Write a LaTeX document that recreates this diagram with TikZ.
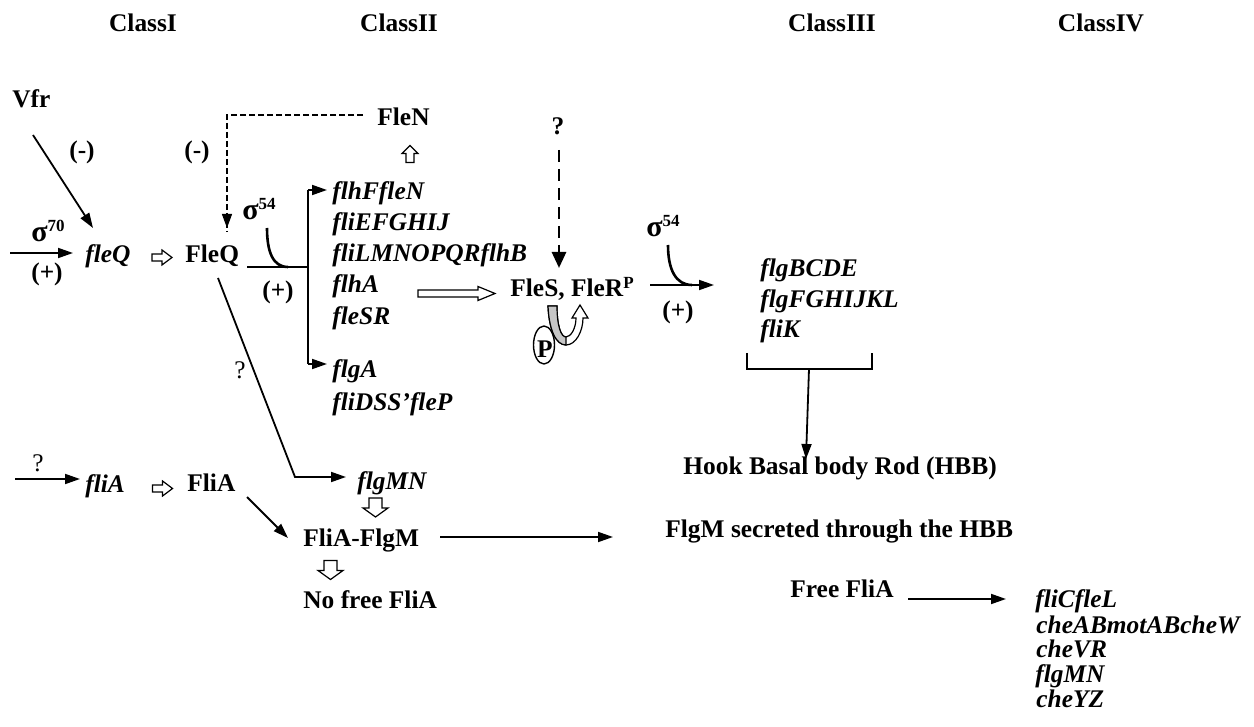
\documentclass[tikz,border=0pt]{standalone}
\usepackage{fontspec}
\setmainfont{Liberation Serif}
\usetikzlibrary{arrows.meta,shapes.geometric}
\newcommand{\mysup}[2]{\raisebox{#1}{\fontsize{8.5}{8.5}\selectfont #2}}
\newcommand{\mysig}{{\fontsize{15}{15}\selectfont σ}}
\tikzset{
  lbl/.style={font=\fontsize{12.7}{15}\selectfont\bfseries, inner sep=0pt, anchor=base west},
  gene/.style={font=\fontsize{12.7}{15}\selectfont\bfseries\itshape, inner sep=0pt, anchor=base west},
  sgn/.style={font=\fontsize{12.7}{15}\selectfont\bfseries, inner sep=0pt},
  qm/.style={font=\fontsize{12.7}{15}\selectfont, inner sep=0pt},
  arr/.style={line width=0.9pt, -{Triangle[length=7.5pt,width=5pt]}},
  ln/.style={line width=0.9pt},
  thindash/.style={line width=0.6pt, dash pattern=on 3pt off 1.5pt},
  thickdash/.style={line width=1.4pt, dash pattern=on 6pt off 3.5pt, -{Triangle[length=8pt,width=7pt]}},
  hol/.style={draw, line width=0.6pt, fill=white},
  sigcurve/.style={line width=1.3pt},
  hright/.pic={\path[hol] (-10,-3.5)--(0,-3.5)--(0,-7.5)--(10,0)--(0,7.5)--(0,3.5)--(-10,3.5)--cycle;},
  hdown/.pic={\path[hol] (-6.5,-9.5)--(6.5,-9.5)--(6.5,0.5)--(12.5,0.5)--(0,9.5)--(-12.5,0.5)--(-6.5,0.5)--cycle;},
  hup/.pic={\path[hol] (0,-8.5)--(8,-0.5)--(4,-0.5)--(4,8.5)--(-4,8.5)--(-4,-0.5)--(-8,-0.5)--cycle;},
}
\begin{document}
\begin{tikzpicture}[x=0.5pt,y=-0.5pt]
\useasboundingbox[fill=white] (0,0) rectangle (1254,727);
% headers
\node[lbl,anchor=base] (c1) at (143,32) {ClassI};
\node[lbl,anchor=base] (c2) at (399,32) {ClassII};
\node[lbl,anchor=base] (c3) at (832,32) {ClassIII};
\node[lbl,anchor=base] (c4) at (1101,32) {ClassIV};
% class I
\node[lbl] (vfr) at (12,108) {Vfr};
\node[sgn] (m1) at (82,152) {(-)};
\node[sgn] (m2) at (197,152) {(-)};
\node[lbl] (s70) at (31,242) {\mysig\mysup{5pt}{70}};
\node[sgn] (p1) at (47,274) {(+)};
\node[gene] (fleQ) at (85,263) {fleQ};
\node[lbl] (FleQ) at (185,263) {FleQ};
\node[lbl] (s54a) at (242,220) {\mysig\mysup{5pt}{54}};
\node[sgn] (p2) at (278,292) {(+)};
% class II genes
\node[gene] (g1) at (332,200) {flhFfleN};
\node[gene] (g2) at (332,231) {fliEFGHIJ};
\node[gene] (g3) at (332,262) {fliLMNOPQRflhB};
\node[gene] (g4) at (332,293) {flhA};
\node[gene] (g5) at (332,325) {fleSR};
\node[gene] (g6) at (332,378) {flgA};
\node[gene] (g7) at (332,410) {fliDSS’fleP};
\node[lbl] (FleN) at (377,126) {FleN};
\node[lbl,anchor=center] (q1) at (558,126) {?};
\node[lbl] (FleS) at (510,297) {FleS, FleR\mysup{4pt}{P}};
\node[lbl] (s54b) at (646,237) {\mysig\mysup{5pt}{54}};
\node[sgn] (p3) at (678,312) {(+)};
% class III
\node[gene] (h1) at (760,277) {flgBCDE};
\node[gene] (h2) at (760,308) {flgFGHIJKL};
\node[gene] (h3) at (760,338) {fliK};
\node[lbl] (HBB) at (683,474) {Hook Basal body Rod (HBB)};
% lower part
\node[qm] (q2) at (240,370) {?};
\node[qm] (q3) at (38,463) {?};
\node[gene] (fliA) at (85,492) {fliA};
\node[lbl] (FliA) at (187,491) {FliA};
\node[gene] (flgMN) at (357,489) {flgMN};
\node[lbl] (FliAFlgM) at (303,546) {FliA-FlgM};
\node[lbl] (NoFree) at (303,608) {No free FliA};
\node[lbl] (Sec) at (665,537) {FlgM secreted through the HBB};
\node[lbl] (Free) at (790,597) {Free FliA};
% class IV
\node[gene] (k1) at (1035,607) {fliCfleL};
\node[gene] (k2) at (1036,633) {cheABmotABcheW};
\node[gene] (k3) at (1036,657) {cheVR};
\node[gene] (k4) at (1035,682) {flgMN};
\node[gene] (k5) at (1036,707) {cheYZ};

% coordinates of connector ends
\coordinate (vfrA) at (33,135); \coordinate (vfrB) at (93,228);
\coordinate (s70A) at (10,253); \coordinate (s70B) at (73,253);
\coordinate (fnA) at (363,115); \coordinate (fnC) at (227,115); \coordinate (fnB) at (227,228);
\coordinate (fqA) at (247,267); \coordinate (fqB) at (308,267);
\coordinate (brT) at (308,190); \coordinate (brB) at (308,364);
\coordinate (brTt) at (327,190); \coordinate (brBt) at (327,364);
\coordinate (sgA) at (267,228); \coordinate (sgB) at (288,267);
\coordinate (qdA) at (559,150); \coordinate (qdB) at (559,268);
\coordinate (rA) at (650,285); \coordinate (rB) at (714,285);
\coordinate (sgC) at (668,245); \coordinate (sgD) at (692,285);
\coordinate (bk1) at (747,353); \coordinate (bk2) at (747,369);
\coordinate (bk3) at (872,369); \coordinate (bk4) at (872,353);
\coordinate (bkM) at (809,369); \coordinate (hbbT) at (806,459);
\coordinate (dqA) at (218,278); \coordinate (dqC) at (295,477); \coordinate (dqB) at (346,477);
\coordinate (faA) at (15,479); \coordinate (faB) at (80,479);
\coordinate (ffA) at (247,497); \coordinate (ffB) at (288,538);
\coordinate (fmA) at (440,537); \coordinate (fmB) at (613,537);
\coordinate (frA) at (908,599); \coordinate (frB) at (1006,599);

% class I connectors
\draw[arr] (vfrA) -- (vfrB);
\draw[arr] (s70A) -- (s70B);
\pic at (162,257.5) {hright};
\draw[thindash] (fnA) -- (fnC) -- ([yshift=-2pt]fnB);
\draw[line width=0.6pt,-{Triangle[length=7pt,width=5pt]}] ([yshift=3pt]fnB) -- (fnB);
\draw[ln] (fqA) -- (fqB);
\draw[sigcurve] (sgA) .. controls (267,252) and (273,267) .. (sgB);
\draw[ln] (brT) -- (brB);
\draw[arr] (brT) -- (brTt);
\draw[arr] (brB) -- (brBt);
\pic at (410,154) {hup};
% big hollow arrow
\path[hol] (418,290)--(478,290)--(478,286.5)--(495,293.5)--(478,300.5)--(478,297)--(418,297)--cycle;
% dashed ? arrow
\draw[thickdash] (qdA) -- (qdB);
% phosphorylation loop
\node[draw, ellipse, line width=0.7pt, inner sep=0pt, minimum width=10.5pt, minimum height=19pt] (Pe) at (544,345) {};
\node[lbl,anchor=center] (Pl) at (545,349) {P};
\path[draw, line width=0.6pt, fill=white]
  (548,306) .. controls (549,330) and (556,345) .. (566,345)
  .. controls (576,345) and (583,331) .. (583,318)
  -- (588,318) -- (580,305) -- (572,318) -- (576,318)
  .. controls (576,328) and (571,337) .. (566,337)
  .. controls (561,337) and (557,326) .. (557,306) -- cycle;
\path[draw, line width=0.6pt, fill=gray!45]
  (548,306) .. controls (549,330) and (556,345) .. (566,345)
  -- (566,337) .. controls (561,337) and (557,326) .. (557,306) -- cycle;
% class III connectors
\draw[arr] (rA) -- (rB);
\draw[sigcurve] (sgC) .. controls (668,270) and (676,285) .. (sgD);
\draw[ln] (bk1) -- (bk2) -- (bk3) -- (bk4);
\draw[arr] (bkM) -- (hbbT);
% lower connectors
\draw[ln,-{Triangle[length=7.5pt,width=5pt]}] (dqA) -- (dqC) -- (dqB);
\draw[arr] (faA) -- (faB);
\pic at (162.5,488.5) {hright};
\draw[arr] (ffA) -- (ffB);
\pic at (375.5,507.5) {hdown};
\pic at (330.5,570) {hdown};
\draw[arr] (fmA) -- (fmB);
\draw[arr] (frA) -- (frB);
\end{tikzpicture}
\end{document}
